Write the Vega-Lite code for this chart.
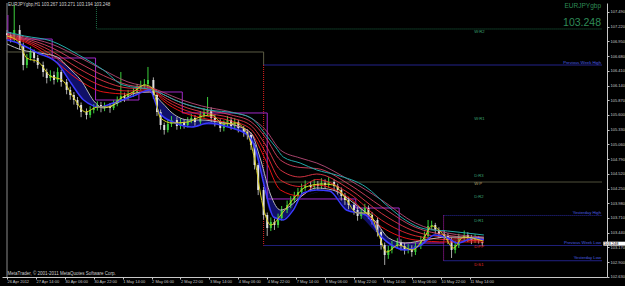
{
"$schema":"https://vega.github.io/schema/vega-lite/v6.json",
"autosize":{"type":"none"},
"width":605,"height":274,
"padding":{"left":2,"top":3,"right":18,"bottom":9},
"background":"#000000",
"config":{"view":{"stroke":null},"axis":{"grid":false,"labelFont":"Liberation Sans","labelColor":"#c8c8c8","tickColor":"#c8c8c8","domainColor":"#c8c8c8","labelFontSize":4,"tickSize":2,"labelOverlap":false,"labelBound":false,"labelFlush":false},"font":"Liberation Sans"},
"resolve":{"scale":{"color":"independent","strokeDash":"independent"}},
"datasets":{
"candles":[
{"i":0,"o":107.100,"h":107.160,"l":106.990,"c":107.068},
{"i":2,"o":107.068,"h":107.120,"l":106.930,"c":107.013},
{"i":4,"o":107.013,"h":107.618,"l":106.950,"c":107.160},
{"i":7,"o":107.160,"h":107.250,"l":106.800,"c":106.884},
{"i":9,"o":106.884,"h":106.930,"l":106.420,"c":106.517},
{"i":11,"o":106.517,"h":106.720,"l":106.460,"c":106.646},
{"i":13,"o":106.646,"h":106.850,"l":106.600,"c":106.756},
{"i":15,"o":106.756,"h":106.800,"l":106.560,"c":106.646},
{"i":17,"o":106.646,"h":106.700,"l":106.450,"c":106.517},
{"i":20,"o":106.517,"h":106.580,"l":106.300,"c":106.389},
{"i":22,"o":106.389,"h":106.450,"l":106.180,"c":106.279},
{"i":24,"o":106.279,"h":106.420,"l":106.220,"c":106.334},
{"i":26,"o":106.334,"h":106.400,"l":106.160,"c":106.242},
{"i":28,"o":106.242,"h":106.470,"l":106.200,"c":106.389},
{"i":30,"o":106.389,"h":106.430,"l":106.120,"c":106.205},
{"i":33,"o":106.205,"h":106.260,"l":105.980,"c":106.059},
{"i":35,"o":106.059,"h":106.120,"l":105.880,"c":105.967},
{"i":37,"o":105.967,"h":106.020,"l":105.790,"c":105.875},
{"i":39,"o":105.875,"h":105.930,"l":105.700,"c":105.783},
{"i":41,"o":105.783,"h":105.830,"l":105.560,"c":105.655},
{"i":44,"o":105.655,"h":105.720,"l":105.520,"c":105.600},
{"i":46,"o":105.600,"h":105.760,"l":105.550,"c":105.692},
{"i":48,"o":105.692,"h":105.800,"l":105.630,"c":105.728},
{"i":50,"o":105.728,"h":105.850,"l":105.680,"c":105.783},
{"i":52,"o":105.783,"h":105.840,"l":105.650,"c":105.728},
{"i":54,"o":105.728,"h":105.830,"l":105.670,"c":105.765},
{"i":57,"o":105.765,"h":105.820,"l":105.640,"c":105.728},
{"i":59,"o":105.728,"h":105.870,"l":105.690,"c":105.802},
{"i":61,"o":105.802,"h":105.940,"l":105.760,"c":105.875},
{"i":63,"o":105.875,"h":106.389,"l":105.830,"c":105.949},
{"i":65,"o":105.949,"h":106.010,"l":105.840,"c":105.912},
{"i":67,"o":105.912,"h":106.060,"l":105.870,"c":105.985},
{"i":70,"o":105.985,"h":106.090,"l":105.930,"c":106.022},
{"i":72,"o":106.022,"h":106.170,"l":105.980,"c":106.095},
{"i":74,"o":106.095,"h":106.230,"l":106.050,"c":106.150},
{"i":76,"o":106.150,"h":106.260,"l":106.080,"c":106.169},
{"i":78,"o":106.169,"h":106.481,"l":106.120,"c":106.242},
{"i":81,"o":106.242,"h":106.290,"l":105.900,"c":105.967},
{"i":83,"o":105.967,"h":106.000,"l":105.580,"c":105.655},
{"i":85,"o":105.655,"h":105.700,"l":105.330,"c":105.416},
{"i":87,"o":105.416,"h":105.460,"l":105.240,"c":105.325},
{"i":89,"o":105.325,"h":105.510,"l":105.280,"c":105.435},
{"i":91,"o":105.435,"h":105.580,"l":105.380,"c":105.508},
{"i":94,"o":105.508,"h":105.560,"l":105.330,"c":105.398},
{"i":96,"o":105.398,"h":105.540,"l":105.340,"c":105.471},
{"i":98,"o":105.471,"h":105.520,"l":105.350,"c":105.416},
{"i":100,"o":105.416,"h":105.560,"l":105.370,"c":105.490},
{"i":102,"o":105.490,"h":105.620,"l":105.450,"c":105.545},
{"i":104,"o":105.545,"h":105.600,"l":105.400,"c":105.471},
{"i":107,"o":105.471,"h":105.670,"l":105.430,"c":105.600},
{"i":109,"o":105.600,"h":105.730,"l":105.550,"c":105.655},
{"i":111,"o":105.655,"h":105.930,"l":105.600,"c":105.692},
{"i":113,"o":105.692,"h":105.740,"l":105.470,"c":105.545},
{"i":115,"o":105.545,"h":105.600,"l":105.390,"c":105.471},
{"i":118,"o":105.471,"h":105.520,"l":105.290,"c":105.361},
{"i":120,"o":105.361,"h":105.500,"l":105.300,"c":105.435},
{"i":122,"o":105.435,"h":105.580,"l":105.390,"c":105.508},
{"i":124,"o":105.508,"h":105.560,"l":105.330,"c":105.398},
{"i":126,"o":105.398,"h":105.540,"l":105.340,"c":105.471},
{"i":128,"o":105.471,"h":105.510,"l":105.280,"c":105.361},
{"i":131,"o":105.361,"h":105.400,"l":105.200,"c":105.288},
{"i":133,"o":105.288,"h":105.340,"l":105.150,"c":105.233},
{"i":135,"o":105.233,"h":105.280,"l":104.960,"c":105.049},
{"i":137,"o":105.049,"h":105.080,"l":104.600,"c":104.682},
{"i":139,"o":104.682,"h":104.720,"l":104.130,"c":104.224},
{"i":142,"o":104.224,"h":104.280,"l":103.680,"c":103.765},
{"i":144,"o":103.765,"h":103.810,"l":103.380,"c":103.526},
{"i":146,"o":103.526,"h":103.720,"l":103.470,"c":103.636},
{"i":148,"o":103.636,"h":103.700,"l":103.490,"c":103.581},
{"i":150,"o":103.581,"h":103.790,"l":103.530,"c":103.710},
{"i":152,"o":103.710,"h":103.930,"l":103.660,"c":103.857},
{"i":155,"o":103.857,"h":104.030,"l":103.800,"c":103.948},
{"i":157,"o":103.948,"h":104.110,"l":103.890,"c":104.040},
{"i":159,"o":104.040,"h":104.190,"l":103.990,"c":104.114},
{"i":161,"o":104.114,"h":104.260,"l":104.060,"c":104.187},
{"i":163,"o":104.187,"h":104.340,"l":104.130,"c":104.260},
{"i":165,"o":104.260,"h":104.400,"l":104.210,"c":104.315},
{"i":168,"o":104.315,"h":104.380,"l":104.200,"c":104.279},
{"i":170,"o":104.279,"h":104.420,"l":104.230,"c":104.334},
{"i":172,"o":104.334,"h":104.390,"l":104.220,"c":104.297},
{"i":174,"o":104.297,"h":104.440,"l":104.240,"c":104.352},
{"i":176,"o":104.352,"h":104.420,"l":104.240,"c":104.315},
{"i":178,"o":104.315,"h":104.460,"l":104.260,"c":104.370},
{"i":181,"o":104.370,"h":104.420,"l":104.220,"c":104.297},
{"i":183,"o":104.297,"h":104.340,"l":104.140,"c":104.224},
{"i":185,"o":104.224,"h":104.270,"l":104.030,"c":104.114},
{"i":187,"o":104.114,"h":104.170,"l":103.950,"c":104.040},
{"i":189,"o":104.040,"h":104.100,"l":103.870,"c":103.948},
{"i":192,"o":103.948,"h":104.000,"l":103.770,"c":103.857},
{"i":194,"o":103.857,"h":103.910,"l":103.660,"c":103.747},
{"i":196,"o":103.747,"h":103.890,"l":103.690,"c":103.820},
{"i":198,"o":103.820,"h":103.970,"l":103.770,"c":103.893},
{"i":200,"o":103.893,"h":103.940,"l":103.690,"c":103.765},
{"i":202,"o":103.765,"h":103.820,"l":103.590,"c":103.673},
{"i":205,"o":103.673,"h":103.720,"l":103.370,"c":103.453},
{"i":207,"o":103.453,"h":103.500,"l":103.130,"c":103.214},
{"i":209,"o":103.214,"h":103.260,"l":102.848,"c":103.031},
{"i":211,"o":103.031,"h":103.200,"l":102.960,"c":103.123},
{"i":213,"o":103.123,"h":103.290,"l":103.060,"c":103.214},
{"i":216,"o":103.214,"h":103.340,"l":103.150,"c":103.270},
{"i":218,"o":103.270,"h":103.320,"l":103.110,"c":103.196},
{"i":220,"o":103.196,"h":103.250,"l":103.040,"c":103.123},
{"i":222,"o":103.123,"h":103.230,"l":103.060,"c":103.160},
{"i":224,"o":103.160,"h":103.210,"l":103.000,"c":103.086},
{"i":226,"o":103.086,"h":103.260,"l":103.030,"c":103.196},
{"i":229,"o":103.196,"h":103.380,"l":103.140,"c":103.306},
{"i":231,"o":103.306,"h":103.460,"l":103.250,"c":103.379},
{"i":233,"o":103.379,"h":103.673,"l":103.330,"c":103.563},
{"i":235,"o":103.563,"h":103.660,"l":103.500,"c":103.581},
{"i":237,"o":103.581,"h":103.620,"l":103.420,"c":103.490},
{"i":239,"o":103.490,"h":103.540,"l":103.340,"c":103.417},
{"i":242,"o":103.417,"h":103.480,"l":103.300,"c":103.379},
{"i":244,"o":103.379,"h":103.430,"l":103.230,"c":103.306},
{"i":246,"o":103.306,"h":103.350,"l":102.976,"c":103.123},
{"i":248,"o":103.123,"h":103.290,"l":103.060,"c":103.214},
{"i":250,"o":103.214,"h":103.420,"l":103.160,"c":103.343},
{"i":253,"o":103.343,"h":103.480,"l":103.290,"c":103.398},
{"i":255,"o":103.398,"h":103.450,"l":103.270,"c":103.343},
{"i":257,"o":103.343,"h":103.400,"l":103.230,"c":103.306},
{"i":259,"o":103.306,"h":103.410,"l":103.250,"c":103.343},
{"i":261,"o":103.343,"h":103.380,"l":103.240,"c":103.306},
{"i":263,"o":103.267,"h":103.271,"l":103.194,"c":103.248}
],
"fill":[
{"i":27.8,"w":106.664,"b":106.554},{"i":34.3,"w":106.462,"b":106.250},{"i":40.8,"w":106.242,"b":105.930},{"i":49.0,"w":105.820,"b":105.770},{"i":53.3,"w":105.740,"b":105.740},
{"i":80.5,"w":106.000,"b":106.000},{"i":86.0,"w":105.820,"b":105.580},{"i":91.4,"w":105.637,"b":105.470},{"i":100.7,"w":105.508,"b":105.390},{"i":107.8,"w":105.508,"b":105.420},{"i":117.0,"w":105.471,"b":105.410},{"i":125.7,"w":105.416,"b":105.350},{"i":135.0,"w":105.270,"b":105.100},{"i":140.4,"w":104.774,"b":104.550},{"i":145.9,"w":104.132,"b":103.800},{"i":151.3,"w":103.857,"b":103.680},{"i":156.7,"w":103.930,"b":103.800},{"i":160.5,"w":104.040,"b":104.040},
{"i":180.1,"w":104.224,"b":104.215},{"i":187.8,"w":104.000,"b":103.857},{"i":193.2,"w":103.948,"b":103.800},{"i":204.1,"w":103.637,"b":103.450},{"i":211.2,"w":103.343,"b":103.230},{"i":220.4,"w":103.251,"b":103.123},{"i":229.1,"w":103.280,"b":103.214},{"i":234.5,"w":103.330,"b":103.330}
],
"cyan":[
{"i":0,"p":107.123},{"i":9.8,"p":107.049},{"i":24.5,"p":106.958},{"i":39.7,"p":106.701},{"i":53.3,"p":106.426},{"i":64.2,"p":106.150},{"i":80.5,"p":106.059},{"i":96.9,"p":105.820},{"i":111.6,"p":105.692},{"i":125.7,"p":105.637},{"i":135,"p":105.545},{"i":144.2,"p":105.196},{"i":148.6,"p":105.013},{"i":152.9,"p":104.829},{"i":162.2,"p":104.719},{"i":171.4,"p":104.591},{"i":182.3,"p":104.499},{"i":198.6,"p":104.279},{"i":211.2,"p":103.912},{"i":220.4,"p":103.673},{"i":231.3,"p":103.508},{"i":243.8,"p":103.471},{"i":263.9,"p":103.398}
],
"white":[
{"i":0,"p":106.903},{"i":8.2,"p":106.793},{"i":18.0,"p":106.738},{"i":27.8,"p":106.664},{"i":34.3,"p":106.462},{"i":40.8,"p":106.242},{"i":49.0,"p":105.820},{"i":53.3,"p":105.728},{"i":58.8,"p":105.783},{"i":64.2,"p":105.875},{"i":71.3,"p":106.004},{"i":78.9,"p":106.022},{"i":86.0,"p":105.820},{"i":91.4,"p":105.637},{"i":100.7,"p":105.508},{"i":107.8,"p":105.508},{"i":117.0,"p":105.471},{"i":125.7,"p":105.416},{"i":135.0,"p":105.270},{"i":140.4,"p":104.774},{"i":145.9,"p":104.132},{"i":151.3,"p":103.857},{"i":156.7,"p":103.930},{"i":160.5,"p":104.040},{"i":171.4,"p":104.260},{"i":180.1,"p":104.224},{"i":193.2,"p":103.948},{"i":204.1,"p":103.637},{"i":211.2,"p":103.343},{"i":220.4,"p":103.251},{"i":231.3,"p":103.306},{"i":243.8,"p":103.361},{"i":263.9,"p":103.343}
],
"blue":[
{"i":0,"p":106.976},{"i":6.0,"p":106.921},{"i":16.9,"p":106.738},{"i":27.8,"p":106.554},{"i":35.4,"p":106.187},{"i":42.4,"p":105.875},{"i":51.7,"p":105.747},{"i":58.8,"p":105.820},{"i":71.3,"p":105.967},{"i":78.9,"p":106.059},{"i":84.4,"p":105.637},{"i":93.1,"p":105.453},{"i":102.3,"p":105.380},{"i":111.6,"p":105.453},{"i":122.4,"p":105.380},{"i":133.3,"p":105.233},{"i":137.7,"p":104.958},{"i":142.0,"p":104.352},{"i":147.5,"p":103.728},{"i":152.9,"p":103.673},{"i":158.4,"p":103.857},{"i":163.8,"p":104.169},{"i":171.4,"p":104.224},{"i":178.5,"p":104.205},{"i":187.8,"p":103.857},{"i":198.6,"p":103.765},{"i":207.3,"p":103.361},{"i":212.8,"p":103.214},{"i":220.4,"p":103.123},{"i":229.1,"p":103.214},{"i":236.7,"p":103.398},{"i":243.8,"p":103.343},{"i":249.3,"p":103.251},{"i":258.5,"p":103.343},{"i":263.9,"p":103.306}
],
"yellow":[
{"i":0,"p":107.049},{"i":6.5,"p":106.939},{"i":10.9,"p":106.646},{"i":17.4,"p":106.572},{"i":23.9,"p":106.316},{"i":30.5,"p":106.242},{"i":37.0,"p":105.912},{"i":43.5,"p":105.655},{"i":50.1,"p":105.747},{"i":56.6,"p":105.747},{"i":63.1,"p":105.912},{"i":69.7,"p":106.022},{"i":76.2,"p":106.150},{"i":80.5,"p":106.095},{"i":84.9,"p":105.545},{"i":91.4,"p":105.453},{"i":100.1,"p":105.471},{"i":106.7,"p":105.563},{"i":113.2,"p":105.600},{"i":119.7,"p":105.435},{"i":126.3,"p":105.453},{"i":132.8,"p":105.270},{"i":137.1,"p":104.774},{"i":141.5,"p":103.948},{"i":145.9,"p":103.581},{"i":152.4,"p":103.802},{"i":158.9,"p":104.077},{"i":165.4,"p":104.279},{"i":174.1,"p":104.334},{"i":180.7,"p":104.315},{"i":187.2,"p":104.077},{"i":193.7,"p":103.802},{"i":200.3,"p":103.802},{"i":205.7,"p":103.398},{"i":210.1,"p":103.086},{"i":216.6,"p":103.214},{"i":224.2,"p":103.123},{"i":230.7,"p":103.343},{"i":235.1,"p":103.563},{"i":241.6,"p":103.398},{"i":247.1,"p":103.159},{"i":252.5,"p":103.361},{"i":263.4,"p":103.288}
],
"ribbon":[
{"i":0,"r0":107.105,"r1":107.082,"r2":107.059,"r3":107.036,"r4":107.013},
{"i":9.8,"r0":107.031,"r1":107.008,"r2":106.985,"r3":106.962,"r4":106.939},
{"i":24.5,"r0":106.903,"r1":106.838,"r2":106.774,"r3":106.710,"r4":106.646},
{"i":39.7,"r0":106.664,"r1":106.559,"r2":106.453,"r3":106.348,"r4":106.242},
{"i":53.3,"r0":106.426,"r1":106.325,"r2":106.224,"r3":106.123,"r4":106.022},
{"i":67.0,"r0":106.205,"r1":106.150,"r2":106.095,"r3":106.040,"r4":105.985},
{"i":80.5,"r0":106.095,"r1":106.086,"r2":106.077,"r3":106.068,"r4":106.059},
{"i":86.0,"r0":106.022,"r1":105.985,"r2":105.949,"r3":105.912,"r4":105.875},
{"i":96.9,"r0":105.875,"r1":105.820,"r2":105.765,"r3":105.710,"r4":105.655},
{"i":107.8,"r0":105.765,"r1":105.710,"r2":105.655,"r3":105.600,"r4":105.545},
{"i":124.1,"r0":105.655,"r1":105.600,"r2":105.545,"r3":105.490,"r4":105.435},
{"i":135.0,"r0":105.545,"r1":105.476,"r2":105.407,"r3":105.338,"r4":105.270},
{"i":143.1,"r0":105.325,"r1":105.187,"r2":105.049,"r3":104.912,"r4":104.774},
{"i":151.3,"r0":104.958,"r1":104.774,"r2":104.591,"r3":104.407,"r4":104.224},
{"i":162.2,"r0":104.811,"r1":104.637,"r2":104.462,"r3":104.288,"r4":104.114},
{"i":171.4,"r0":104.719,"r1":104.618,"r2":104.517,"r3":104.416,"r4":104.315},
{"i":189.4,"r0":104.407,"r1":104.325,"r2":104.242,"r3":104.160,"r4":104.077},
{"i":207.3,"r0":104.040,"r1":103.916,"r2":103.793,"r3":103.669,"r4":103.545},
{"i":225.9,"r0":103.618,"r1":103.540,"r2":103.462,"r3":103.384,"r4":103.306},
{"i":243.8,"r0":103.435,"r1":103.393,"r2":103.352,"r3":103.311,"r4":103.270},
{"i":263.9,"r0":103.361,"r1":103.338,"r2":103.315,"r3":103.293,"r4":103.270}
],
"steps":[
{"o":0,"i":0.5,"p":107.435},{"o":1,"i":0.5,"p":106.994},{"o":2,"i":25,"p":106.994},{"o":3,"i":25,"p":106.646},{"o":4,"i":49,"p":106.646},{"o":5,"i":49,"p":105.875},{"o":6,"i":73,"p":105.875},{"o":7,"i":73,"p":106.022},{"o":8,"i":97,"p":106.022},{"o":9,"i":97,"p":105.637},{"o":10,"i":144,"p":105.637},{"o":11,"i":144,"p":104.059},{"o":12,"i":193,"p":104.059},{"o":13,"i":193,"p":103.893},{"o":14,"i":217,"p":103.893},{"o":15,"i":217,"p":103.251},{"o":16,"i":242,"p":103.251}
],
"levels":[
{"g":"frm","x1":0,"x2":0,"y1":102.627,"y2":107.655},
{"g":"grn","x1":49.5,"x2":329.25,"y1":107.178,"y2":107.178},
{"g":"grn","x1":49.5,"x2":49.5,"y1":107.655,"y2":107.178},
{"g":"olv","x1":0,"x2":142,"y1":106.756,"y2":106.756},
{"g":"olv","x1":142,"x2":142,"y1":106.756,"y2":106.517},
{"g":"olv","x1":142,"x2":329.25,"y1":104.370,"y2":104.370},
{"g":"nav","x1":142,"x2":329.25,"y1":106.517,"y2":106.517},
{"g":"nav","x1":142,"x2":329.25,"y1":103.205,"y2":103.205},
{"g":"nav","x1":241.6,"x2":329.25,"y1":102.926,"y2":102.926},
{"g":"navd","x1":241.6,"x2":329.25,"y1":103.756,"y2":103.756},
{"g":"redd","x1":142,"x2":142,"y1":106.517,"y2":103.205},
{"g":"magd","x1":241.6,"x2":241.6,"y1":103.756,"y2":102.926}
],
"texts":[
{"k":"hdr","i":0.5,"p":107.618,"t":"EURJPYgbp,H1  103.267 103.271 103.194 103.248"},
{"k":"hdr","i":0.3,"p":102.682,"t":"MetaTrader, © 2001-2011 MetaQuotes Software Corp."},
{"k":"sym","i":328.7,"p":107.600,"t":"EURJPYgbp"},
{"k":"big","i":328.7,"p":107.297,"t":"103.248"},
{"k":"lvl","i":328.7,"p":106.563,"t":"Previous Week High"},
{"k":"lvl","i":328.7,"p":103.802,"t":"Yesterday High"},
{"k":"lvl","i":328.7,"p":103.251,"t":"Previous Week Low"},
{"k":"lvl","i":328.7,"p":102.970,"t":"Yesterday Low"},
{"k":"pivg","i":258.5,"p":107.123,"t":"W:R2"},
{"k":"pivg","i":258.5,"p":105.526,"t":"W:R1"},
{"k":"pivg","i":258.5,"p":104.481,"t":"D:R3"},
{"k":"pivg","i":258.5,"p":104.095,"t":"D:R2"},
{"k":"pivg","i":258.5,"p":103.655,"t":"D:R1"},
{"k":"pivw","i":258.5,"p":104.325,"t":"W:P"},
{"k":"pivr","i":258.5,"p":103.178,"t":"D:PP"},
{"k":"pivr","i":258.5,"p":102.848,"t":"D:S1"},
{"k":"box","i":330.4,"p":103.238,"t":"103.248"}
]
},
"layer":[
{"data":{"name":"levels"},"mark":{"type":"rule","strokeWidth":1},
 "encoding":{
  "x":{"field":"x1","type":"quantitative","scale":{"domain":[0,329.25],"nice":false,"zero":false},"title":null,
   "axis":{"values":[0,16,32,48,64,80,96,112,128,144,160,176,192,208,224,240,256],"tickCount":100,
    "labelExpr":"['26 Apr 2012','27 Apr 14:00','30 Apr 06:00','30 Apr 22:00','1 May 14:00','2 May 06:00','2 May 22:00','3 May 14:00','4 May 06:00','4 May 22:00','7 May 14:00','8 May 06:00','8 May 22:00','9 May 14:00','10 May 06:00','10 May 22:00','11 May 14:00'][round(datum.value/16)]",
    "labelAlign":"left","labelPadding":0,"title":null,"labelOverlap":false,"labelBound":false,"labelFlush":false,"labelFontSize":4,"labelColor":"#c8c8c8"}},
  "x2":{"field":"x2"},
  "y":{"field":"y1","type":"quantitative","scale":{"domain":[102.627,107.655],"nice":false,"zero":false},"title":null,
   "axis":{"orient":"right","values":[102.63,102.9,103.17,103.44,103.71,103.98,104.25,104.52,104.79,105.06,105.33,105.6,105.87,106.14,106.41,106.68,106.95,107.22,107.49],"tickCount":100,
    "format":".3f","labelPadding":1,"title":null,"labelOverlap":false,"labelBound":false,"labelFlush":false,"labelFontSize":4,"labelColor":"#c8c8c8"}},
  "y2":{"field":"y2"},
  "color":{"field":"g","type":"nominal","legend":null,"scale":{"domain":["frm","grn","olv","nav","navd","redd","magd"],"range":["#8a8a8a","#1d6b47","#5c5c44","#2a2aa0","#2a2aa0","#e02020","#c020c0"]}},
  "strokeDash":{"field":"g","type":"nominal","legend":null,"scale":{"domain":["frm","grn","olv","nav","navd","redd","magd"],"range":[[1,0],[1,1],[1,0],[1,0],[1,1],[1,1],[1,1]]}}
 }},
{"data":{"name":"fill"},"mark":{"type":"area","color":"#16168a","opacity":0.75,"interpolate":"monotone"},
 "encoding":{
  "x":{"field":"i","type":"quantitative","title":null},
  "y":{"field":"b","type":"quantitative","title":null},
  "y2":{"field":"w"}}},
{"data":{"name":"steps"},"mark":{"type":"line","color":"#a028c8","strokeWidth":1},
 "encoding":{
  "x":{"field":"i","type":"quantitative","title":null},
  "y":{"field":"p","type":"quantitative","title":null},
  "order":{"field":"o","type":"quantitative"}}},
{"data":{"name":"candles"},"mark":{"type":"rule","strokeWidth":1},
 "encoding":{
  "x":{"field":"i","type":"quantitative","title":null},
  "y":{"field":"l","type":"quantitative","title":null},
  "y2":{"field":"h"},
  "color":{"condition":{"test":"datum.c >= datum.o","value":"#3ccf3c"},"value":"#a8a8a8"}}},
{"data":{"name":"candles"},"mark":{"type":"bar","orient":"vertical","size":2},
 "encoding":{
  "x":{"field":"i","type":"quantitative","title":null},
  "y":{"field":"o","type":"quantitative","title":null},
  "y2":{"field":"c"},
  "color":{"condition":{"test":"datum.c >= datum.o","value":"#3ccf3c"},"value":"#e0e0e0"}}},
{"data":{"name":"ribbon"},"transform":[{"fold":["r0","r1","r2","r3","r4"]}],
 "mark":{"type":"line","strokeWidth":1,"interpolate":"monotone","opacity":0.9},
 "encoding":{
  "x":{"field":"i","type":"quantitative","title":null},
  "y":{"field":"value","type":"quantitative","title":null},
  "color":{"field":"key","type":"nominal","legend":null,"scale":{"domain":["r0","r1","r2","r3","r4"],"range":["#b84a78","#d84464","#e83848","#f02830","#ff1414"]}}}},
{"data":{"name":"cyan"},"mark":{"type":"line","color":"#22aaaa","strokeWidth":1,"interpolate":"monotone"},
 "encoding":{"x":{"field":"i","type":"quantitative","title":null},"y":{"field":"p","type":"quantitative","title":null}}},
{"data":{"name":"white"},"mark":{"type":"line","color":"#b8b8b8","strokeWidth":1,"interpolate":"monotone"},
 "encoding":{"x":{"field":"i","type":"quantitative","title":null},"y":{"field":"p","type":"quantitative","title":null}}},
{"data":{"name":"blue"},"mark":{"type":"line","color":"#3a3aff","strokeWidth":1.5,"interpolate":"monotone"},
 "encoding":{"x":{"field":"i","type":"quantitative","title":null},"y":{"field":"p","type":"quantitative","title":null}}},
{"data":{"name":"yellow"},"mark":{"type":"line","color":"#d8d020","strokeWidth":1,"interpolate":"monotone"},
 "encoding":{"x":{"field":"i","type":"quantitative","title":null},"y":{"field":"p","type":"quantitative","title":null}}},
{"data":{"values":[{"x1":330,"x2":342,"y1":103.202,"y2":103.275}]},"mark":{"type":"rect","color":"#ffffff"},
 "encoding":{"x":{"field":"x1","type":"quantitative","title":null},"x2":{"field":"x2"},"y":{"field":"y1","type":"quantitative","title":null},"y2":{"field":"y2"}}},
{"data":{"name":"texts"},"transform":[{"filter":"datum.k == 'hdr'"}],"mark":{"type":"text","align":"left","baseline":"middle","fontSize":4.5,"color":"#d0d0d0","font":"Liberation Sans"},
 "encoding":{"x":{"field":"i","type":"quantitative","title":null},"y":{"field":"p","type":"quantitative","title":null},"text":{"field":"t"}}},
{"data":{"name":"texts"},"transform":[{"filter":"datum.k == 'sym'"}],"mark":{"type":"text","align":"right","baseline":"middle","fontSize":6.5,"color":"#2e8b57","font":"Liberation Sans"},
 "encoding":{"x":{"field":"i","type":"quantitative","title":null},"y":{"field":"p","type":"quantitative","title":null},"text":{"field":"t"}}},
{"data":{"name":"texts"},"transform":[{"filter":"datum.k == 'big'"}],"mark":{"type":"text","align":"right","baseline":"middle","fontSize":10.5,"color":"#2e8b57","font":"Liberation Sans"},
 "encoding":{"x":{"field":"i","type":"quantitative","title":null},"y":{"field":"p","type":"quantitative","title":null},"text":{"field":"t"}}},
{"data":{"name":"texts"},"transform":[{"filter":"datum.k == 'lvl'"}],"mark":{"type":"text","align":"right","baseline":"middle","fontSize":4.2,"color":"#4a5ee0","font":"Liberation Sans"},
 "encoding":{"x":{"field":"i","type":"quantitative","title":null},"y":{"field":"p","type":"quantitative","title":null},"text":{"field":"t"}}},
{"data":{"name":"texts"},"transform":[{"filter":"datum.k == 'pivg'"}],"mark":{"type":"text","align":"left","baseline":"middle","fontSize":4.2,"color":"#3aa070","font":"Liberation Sans"},
 "encoding":{"x":{"field":"i","type":"quantitative","title":null},"y":{"field":"p","type":"quantitative","title":null},"text":{"field":"t"}}},
{"data":{"name":"texts"},"transform":[{"filter":"datum.k == 'pivw'"}],"mark":{"type":"text","align":"left","baseline":"middle","fontSize":4.2,"color":"#b0a070","font":"Liberation Sans"},
 "encoding":{"x":{"field":"i","type":"quantitative","title":null},"y":{"field":"p","type":"quantitative","title":null},"text":{"field":"t"}}},
{"data":{"name":"texts"},"transform":[{"filter":"datum.k == 'pivr'"}],"mark":{"type":"text","align":"left","baseline":"middle","fontSize":4.2,"color":"#e02a2a","font":"Liberation Sans"},
 "encoding":{"x":{"field":"i","type":"quantitative","title":null},"y":{"field":"p","type":"quantitative","title":null},"text":{"field":"t"}}},
{"data":{"name":"texts"},"transform":[{"filter":"datum.k == 'box'"}],"mark":{"type":"text","align":"left","baseline":"middle","fontSize":4,"color":"#000000","font":"Liberation Sans"},
 "encoding":{"x":{"field":"i","type":"quantitative","title":null},"y":{"field":"p","type":"quantitative","title":null},"text":{"field":"t"}}}
]
}
